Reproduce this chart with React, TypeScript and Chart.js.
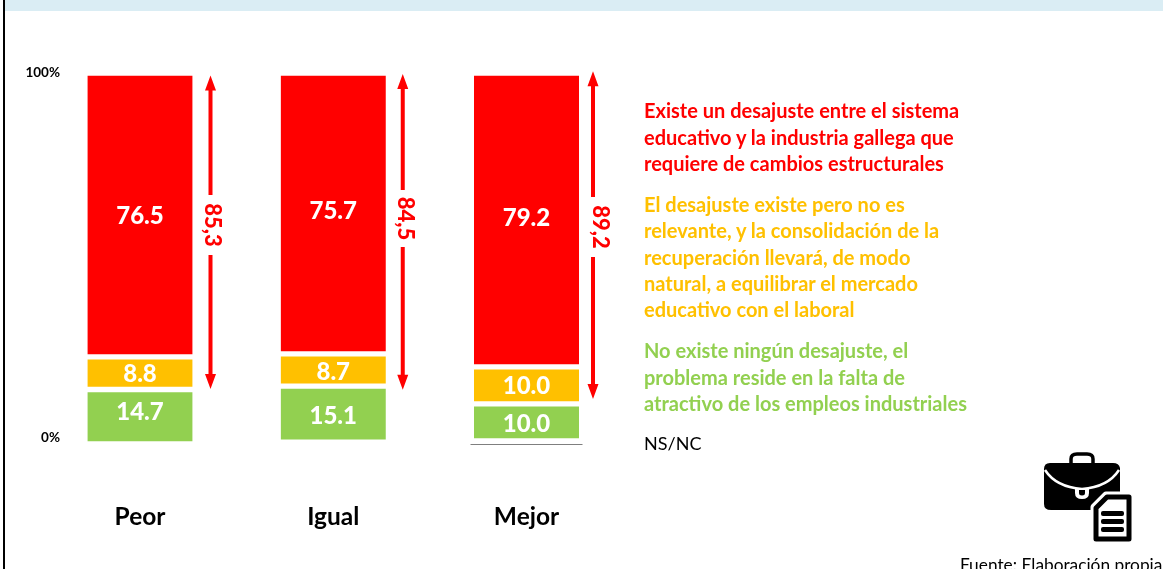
import React, { useEffect, useRef } from "react";
import { Chart, registerables } from "chart.js";

Chart.register(...registerables);

const categories = ["Peor", "Igual", "Mejor"];
const noAnswer = [0, 0.5, 0.8];
const noMismatch = [14.7, 15.1, 10.0];
const notRelevant = [8.8, 8.7, 10.0];
const structural = [76.5, 75.7, 79.2];
const yTicks = [0, 100];
const arrowLabels = ["85,3", "84,5", "89,2"];
const arrowTop = [99.3, 99.7, 100.5];
const arrowBottom = [14.8, 14.6, 12.1];

const RED = "#ff0000";
const AMBER = "#ffc000";
const GREEN = "#92d050";
const FONT = "Lato, sans-serif";

const legendBlocks = [
  { color: RED, weight: 700, size: 20, lines: [
    ["Existe un desajuste entre el sistema", 110],
    ["educativo y la industria gallega que", 137],
    ["requiere de cambios estructurales", 163],
  ] },
  { color: AMBER, weight: 700, size: 20, lines: [
    ["El desajuste existe pero no es", 204],
    ["relevante, y la consolidación de la", 230],
    ["recuperación llevará, de modo", 257],
    ["natural, a equilibrar el mercado", 283],
    ["educativo con el laboral", 309],
  ] },
  { color: GREEN, weight: 700, size: 20, lines: [
    ["No existe ningún desajuste, el", 350],
    ["problema reside en la falta de", 377],
    ["atractivo de los empleos industriales", 403],
  ] },
  { color: "#000000", weight: 400, size: 18, lines: [["NS/NC", 443]] },
];

const labelNudge: Record<string, number[]> = {
  "1": [-4, 2, 2],
  "2": [1, 2, 1],
  "3": [1, -2, -2],
};
const arrowGap = [[195, 255], [190, 247], [197, 257]];
const arrowX = [18, 17, 14];
const arrowLabelShift = [2, 2, 7];

const overlays = {
  id: "overlays",
  afterDatasetsDraw(chart: any) {
    const { ctx } = chart;
    const y = chart.scales.y;
    ctx.save();
    // value labels inside the segments
    ctx.font = `900 24px ${FONT}`;
    ctx.fillStyle = "#ffffff";
    ctx.textAlign = "center";
    ctx.textBaseline = "middle";
    [1, 2, 3].forEach((di) => {
      const meta = chart.getDatasetMeta(di);
      meta.data.forEach((bar: any, i: number) => {
        const v = chart.data.datasets[di].data[i];
        ctx.fillText(v.toFixed(1), bar.x, (bar.y + bar.base) / 2 + labelNudge[di][i]);
      });
    });
    // span arrows with rotated labels
    const bars = chart.getDatasetMeta(3).data;
    bars.forEach((bar: any, i: number) => {
      const x = bar.x + bar.width / 2 + arrowX[i];
      const top = y.getPixelForValue(arrowTop[i]);
      const bottom = y.getPixelForValue(arrowBottom[i]);
      const [g1, g2] = arrowGap[i];
      ctx.strokeStyle = RED;
      ctx.fillStyle = RED;
      ctx.lineWidth = 4;
      ctx.beginPath();
      ctx.moveTo(x, top + 10);
      ctx.lineTo(x, g1);
      ctx.moveTo(x, g2);
      ctx.lineTo(x, bottom - 10);
      ctx.stroke();
      ctx.beginPath();
      ctx.moveTo(x, top);
      ctx.lineTo(x - 5.5, top + 15);
      ctx.lineTo(x + 5.5, top + 15);
      ctx.closePath();
      ctx.moveTo(x, bottom);
      ctx.lineTo(x - 5.5, bottom - 15);
      ctx.lineTo(x + 5.5, bottom - 15);
      ctx.closePath();
      ctx.fill();
      ctx.save();
      ctx.translate(x + arrowLabelShift[i], (g1 + g2) / 2);
      ctx.rotate(Math.PI / 2);
      ctx.font = `900 22px ${FONT}`;
      ctx.textAlign = "center";
      ctx.textBaseline = "middle";
      ctx.fillText(arrowLabels[i], 0, 0);
      ctx.restore();
    });
    // baseline below the last column
    const last = bars[bars.length - 1];
    ctx.strokeStyle = "#7f7f7f";
    ctx.lineWidth = 1;
    ctx.beginPath();
    ctx.moveTo(last.x - 56, y.getPixelForValue(0) + 0.5);
    ctx.lineTo(last.x + 56, y.getPixelForValue(0) + 0.5);
    ctx.stroke();
    ctx.restore();
  },
};

function Briefcase() {
  return (
    <svg width="92" height="92" viewBox="0 0 92 92" style={{ position: "absolute", left: 1042, top: 451 }}>
      <path d="M29 12 v-4 q0 -5 6 -5 h10 q6 0 6 5 v4" fill="none" stroke="#000" strokeWidth="3.5" />
      <path d="M8 12 h63 q6 0 7 5 v36 q0 6 -7 6 H9 q-7 0 -7 -6 V18 q0 -6 6 -6z" fill="#000" />
      <path d="M3 19 Q14 36 40 38 Q66 36 77 19" fill="none" stroke="#fff" strokeWidth="2.5" />
      <path d="M34 38 v4 q0 5 6 5 q6 0 6 -5 v-4" fill="#fff" stroke="#fff" strokeWidth="2" />
      <path d="M37 39 v3 q0 2.5 3 2.5 q3 0 3 -2.5 v-3z" fill="#000" />
      <path d="M64 44 h24 v44 h-36 V56z" fill="#fff" stroke="#fff" strokeWidth="7" strokeLinejoin="round" />
      <path d="M65 46 h22 v42 H54 V57z" fill="#fff" stroke="#000" strokeWidth="5" strokeLinejoin="round" />
      <rect x="59" y="60" width="23" height="5" rx="2" fill="#000" />
      <rect x="59" y="68" width="23" height="5" rx="2" fill="#000" />
      <rect x="59" y="76" width="23" height="5" rx="2" fill="#000" />
    </svg>
  );
}

export default function App() {
  const ref = useRef<HTMLCanvasElement | null>(null);

  useEffect(() => {
    const seg = { top: 3, bottom: 3, left: 0, right: 0 };
    const common = { barThickness: 105, clip: false as const, borderColor: "#ffffff", borderWidth: seg, borderSkipped: false };
    const chart = new Chart(ref.current as HTMLCanvasElement, {
      type: "bar",
      plugins: [overlays],
      data: {
        labels: categories,
        datasets: [
          { label: "NS/NC", data: noAnswer, backgroundColor: "rgba(255,255,255,0)", barThickness: 105, clip: false },
          { label: "No existe ningún desajuste", data: noMismatch, backgroundColor: GREEN, ...common },
          { label: "El desajuste existe pero no es relevante", data: notRelevant, backgroundColor: AMBER, ...common },
          { label: "Existe un desajuste", data: structural, backgroundColor: RED, ...common },
        ],
      } as any,
      options: {
        responsive: false,
        animation: false,
        layout: { padding: { top: 73, right: 636.5, left: 0, bottom: 0 } },
        plugins: { legend: { display: false }, tooltip: { enabled: false } },
        scales: {
          x: {
            stacked: true,
            offset: false,
            grid: { display: false },
            border: { display: false },
            ticks: { color: "#000", font: { family: FONT, weight: 700, size: 24.5 }, padding: 50, maxRotation: 0, autoSkip: false },
            afterFit(scale: any) { scale.height = 125; scale.paddingLeft = 0; scale.paddingRight = 0; },
          } as any,
          y: {
            stacked: true,
            min: 0,
            max: 100,
            grid: { display: false },
            border: { display: false },
            afterBuildTicks(scale: any) { scale.ticks = yTicks.map((value) => ({ value })); },
            afterFit(scale: any) { scale.width = 140; scale.paddingTop = 0; scale.paddingBottom = 0; },
            ticks: {
              color: "#000",
              font: { family: FONT, weight: 700, size: 13.5, lineHeight: 1 },
              padding: 72,
              callback: (v: any) => (v === 0 ? [`${v}%`, ""] : `${v}%`),
            },
          } as any,
        },
      },
    });
    return () => chart.destroy();
  }, []);

  return (
    <div style={{ position: "relative", width: 1163, height: 569, overflow: "hidden", background: "#fff", fontFamily: FONT }}>
      <style>{"html,body{margin:0;padding:0;overflow:hidden}"}</style>
      <div style={{ position: "absolute", left: 5, top: 0, right: 0, height: 11, background: "#daedf4" }} />
      <div style={{ position: "absolute", left: 3, top: 0, width: 2, bottom: 0, background: "#000" }} />
      <canvas ref={ref} width={1163} height={569} style={{ position: "absolute", left: 0, top: 0, display: "block" }} />
      {legendBlocks.flatMap((b) =>
        b.lines.map(([text, y]) => (
          <div key={String(text)} style={{ position: "absolute", left: 644, top: (y as number) - 13, height: 26, lineHeight: "26px", color: b.color, fontWeight: b.weight, fontSize: b.size, whiteSpace: "nowrap" }}>
            {text}
          </div>
        ))
      )}
      <Briefcase />
      <div style={{ position: "absolute", left: 960, top: 555, fontSize: 17.3, lineHeight: "20px", color: "#000", whiteSpace: "nowrap" }}>
        Fuente: Elaboración propia
      </div>
    </div>
  );
}
